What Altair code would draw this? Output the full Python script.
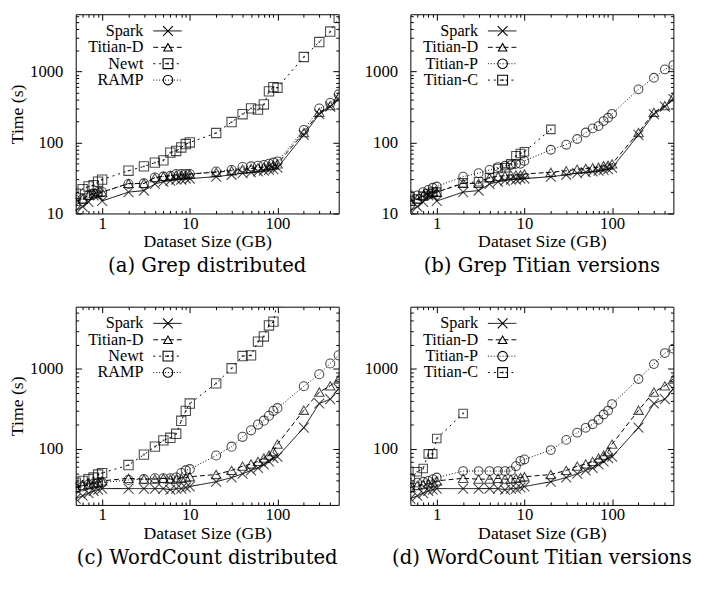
import altair as alt
import pandas as pd

SIZES = [0.5, 0.6, 0.7, 0.8, 0.9, 1, 2, 3, 4, 5, 6, 7, 8, 9, 10,
         20, 30, 40, 50, 60, 70, 80, 90, 100, 200, 300, 400, 500]

# Grep (panels a, b)
GREP_SPARK = [11, 12.5, 14.5, 18, 18, 15, 20, 21, 26, 28, 29, 30, 30, 31, 31,
              33, 35, 37, 38, 39, 40, 41, 42, 44, 128, 250, 320, 410]
GREP_TITIAN_D = [14.8, 16, 18, 19, 20, 20, 26.5, 26.5, 32, 33.4, 34, 35, 35, 35, 36,
                 38, 40, 42, 43, 44, 45, 47, 48, 50, 138, 265, 330, 440]
GREP_NEWT = [19, 22, 24, 25, 28, 30, 40, 46, 52, 56, 72, 76, 85, 95, 100,
             136, 194, 250, 302, 290, 343, 525, 600, 590, 1600, 2600, 3650, 5700]
GREP_RAMP = [15.5, 16, 18, 19, 20, 20, 26, 26.5, 32, 33, 34, 36, 36, 36, 36,
             39, 41, 45, 46, 47, 48, 50, 52, 54, 150, 300, 360, 475]
GREP_TITIAN_P = [18, 18, 20, 21.5, 23, 24, 33, 37, 41, 45, 47, 48, 50, 50, 55,
                 79, 93, 112, 138, 158, 170, 200, 223, 253, 560, 815, 1070, 1230]
GREP_TITIAN_C = [15, 16, 17.5, 19, 20, 20, 27, 28, 32, 43, 44, 50, 65, 70, 74, 153]

# WordCount (panels c, d)
WC_SPARK = [24, 26, 28, 30, 31, 32, 32, 32, 32, 32, 31, 32, 32, 33, 34,
            39, 44, 49, 54, 58, 64, 70, 77, 80, 185, 370, 420, 565]
WC_TITIAN_D = [33, 35, 36, 37, 38, 40, 43, 42, 42, 43, 42, 42, 43, 44, 45,
               48, 54, 61, 65, 70, 77, 84, 93, 115, 305, 515, 615, 750]
WC_NEWT = [38, 40, 42, 44, 48, 50, 63, 85, 107, 128, 138, 155, 225, 300, 370,
           660, 1020, 1450, 1480, 2200, 2550, 3500, 3900, 7000]
WC_RAMP = [32, 34, 36, 37, 38, 38, 41, 42, 43, 43, 43, 44, 50, 54, 56,
           83, 107, 142, 171, 202, 226, 260, 300, 324, 608, 860, 1170, 1480]
WC_TITIAN_P = [33, 38, 39, 40, 42, 44, 53, 53, 53, 53, 53, 53, 61, 71, 74,
               97, 130, 160, 184, 204, 232, 270, 302, 364, 750, 1150, 1580, 1790]
WC_TITIAN_C = [42, 52, 57, 87, 87, 135, 278]

X_MAJOR = [1, 10, 100]
X_MINOR = [0.6, 0.7, 0.8, 0.9, 2, 3, 4, 5, 6, 7, 8, 9,
           20, 30, 40, 50, 60, 70, 80, 90, 200, 300, 400]
GY_MIN = [20, 30, 40, 50, 60, 70, 80, 90, 200, 300, 400, 500, 600, 700, 800, 900,
          2000, 3000, 4000, 5000, 6000]
WY_MIN = [30, 40, 50, 60, 70, 80, 90, 200, 300, 400, 500, 600, 700, 800, 900,
          2000, 3000, 4000, 5000]

FONT = "Liberation Serif"
CAP_FONT = "DejaVu Serif"
X_SHAPE = "M-1,-1L1,1M-1,1L1,-1"
STYLE = {
    "Spark": ([1, 0], X_SHAPE, 100),
    "Titian-D": ([5, 3], "triangle-up", 75),
    "Newt": ([2, 4], "square", 100),
    "RAMP": ([1, 2], "circle", 95),
    "Titian-P": ([1, 2], "circle", 95),
    "Titian-C": ([2, 4], "square", 100),
}
ALL_NAMES = list(STYLE.keys())
W = 268


def tick_axis(orient, values, size):
    return alt.Axis(orient=orient, values=values, offset=-size, tickSize=size,
                    labels=False, domain=False, grid=False, title=None,
                    tickColor="black", tickWidth=1)


def panel(series, ylo, yhi, ymajor, yminor, caption, ytitle, height):
    rows = []
    for name, vals in series:
        for x, v in zip(SIZES, vals):
            rows.append({"size": x, "time": v, "series": name})
    df = pd.DataFrame(rows)
    names = [s[0] for s in series]
    xsc = alt.Scale(type="log", domain=[0.5, 500])
    ysc = alt.Scale(type="log", domain=[ylo, yhi])
    dash = alt.Scale(domain=ALL_NAMES, range=[STYLE[n][0] for n in ALL_NAMES])
    shp = alt.Scale(domain=ALL_NAMES, range=[STYLE[n][1] for n in ALL_NAMES])
    szs = alt.Scale(domain=ALL_NAMES, range=[STYLE[n][2] for n in ALL_NAMES])
    base = alt.Chart(df)

    lines = base.mark_line(clip=True, color="black", strokeWidth=1).encode(
        x=alt.X("size:Q", scale=xsc, axis=alt.Axis(
            values=X_MAJOR, format="d", ticks=False, tickSize=0, domain=False, grid=False,
            labelPadding=2, title="Dataset Size (GB)", titlePadding=2)),
        y=alt.Y("time:Q", scale=ysc, axis=alt.Axis(
            values=ymajor, format="d", ticks=False, tickSize=0, domain=False, grid=False,
            labelPadding=13, title=ytitle, titlePadding=3)),
        strokeDash=alt.StrokeDash("series:N", scale=dash, legend=None),
        detail="series:N",
    )
    points = base.mark_point(clip=True, color="black", filled=False, strokeWidth=1.1).encode(
        x=alt.X("size:Q", scale=xsc, axis=None),
        y=alt.Y("time:Q", scale=ysc, axis=None),
        shape=alt.Shape("series:N", scale=shp, legend=None),
        size=alt.Size("series:N", scale=szs, legend=None),
    )
    sq_names = [n for n in names if STYLE[n][1] == "square"]
    dots = base.mark_point(clip=True, color="black", filled=True, shape="square", size=3).encode(
        x=alt.X("size:Q", scale=xsc, axis=None),
        y=alt.Y("time:Q", scale=ysc, axis=None),
    ).transform_filter(alt.FieldOneOfPredicate(field="series", oneOf=sq_names))

    inv = base.mark_point(opacity=0)
    ax1 = inv.encode(x=alt.X("size:Q", scale=xsc, axis=tick_axis("bottom", X_MAJOR, 6)),
                     y=alt.Y("time:Q", scale=ysc, axis=tick_axis("left", ymajor, 6)))
    ax2 = inv.encode(x=alt.X("size:Q", scale=xsc, axis=tick_axis("bottom", X_MINOR, 3)),
                     y=alt.Y("time:Q", scale=ysc, axis=tick_axis("left", yminor, 3)))
    ax3 = inv.encode(x=alt.X("size:Q", scale=xsc, axis=tick_axis("top", X_MAJOR, 6)),
                     y=alt.Y("time:Q", scale=ysc, axis=tick_axis("right", ymajor, 6)))
    ax4 = inv.encode(x=alt.X("size:Q", scale=xsc, axis=tick_axis("top", X_MINOR, 3)),
                     y=alt.Y("time:Q", scale=ysc, axis=tick_axis("right", yminor, 3)))

    legend = []
    one = alt.Data(values=[{}])
    for i, n in enumerate(names):
        yy = 17 + 16.7 * i
        d, s, sz = STYLE[n]
        legend.append(alt.Chart(one).mark_text(
            text=n, align="right", baseline="middle", font=FONT, fontSize=16.5, color="black"
        ).encode(x=alt.value(69), y=alt.value(yy)))
        legend.append(alt.Chart(one).mark_rule(
            color="black", strokeWidth=1, strokeDash=d
        ).encode(x=alt.value(79), x2=alt.value(108), y=alt.value(yy)))
        legend.append(alt.Chart(one).mark_point(
            shape=s, size=sz, filled=False, color="black", strokeWidth=1.1, opacity=1
        ).encode(x=alt.value(94), y=alt.value(yy)))
        if s == "square":
            legend.append(alt.Chart(one).mark_point(
                shape="square", size=3, filled=True, color="black", opacity=1
            ).encode(x=alt.value(94), y=alt.value(yy)))

    return alt.layer(lines, points, dots, ax1, ax2, ax3, ax4, *legend).resolve_axis(
        x="independent", y="independent"
    ).properties(
        width=W, height=height,
        title=alt.TitleParams(caption, orient="bottom", font=CAP_FONT, fontSize=20,
                              fontWeight="normal", color="black", offset=6, anchor="middle"),
    )


pa = panel([("Spark", GREP_SPARK), ("Titian-D", GREP_TITIAN_D), ("Newt", GREP_NEWT), ("RAMP", GREP_RAMP)],
           10, 6400, [10, 100, 1000], GY_MIN, "(a) Grep distributed", "Time (s)", 203)
pb = panel([("Spark", GREP_SPARK), ("Titian-D", GREP_TITIAN_D), ("Titian-P", GREP_TITIAN_P), ("Titian-C", GREP_TITIAN_C)],
           10, 6400, [10, 100, 1000], GY_MIN, "(b) Grep Titian versions", None, 203)
pc = panel([("Spark", WC_SPARK), ("Titian-D", WC_TITIAN_D), ("Newt", WC_NEWT), ("RAMP", WC_RAMP)],
           20, 6000, [100, 1000], WY_MIN, "(c) WordCount distributed", "Time (s)", 202)
pd_ = panel([("Spark", WC_SPARK), ("Titian-D", WC_TITIAN_D), ("Titian-P", WC_TITIAN_P), ("Titian-C", WC_TITIAN_C)],
            20, 6000, [100, 1000], WY_MIN, "(d) WordCount Titian versions", None, 202)

chart = alt.vconcat(
    alt.hconcat(pa, pb, spacing=21),
    alt.hconcat(pc, pd_, spacing=21),
    spacing=21,
).properties(
    padding={"left": 0, "top": 0, "right": 0, "bottom": 0}
).configure_view(
    stroke="black", strokeWidth=1
).configure_axis(
    labelFont=FONT, labelFontSize=17, labelColor="black",
    titleFont=FONT, titleFontSize=18, titleFontWeight="normal", titleColor="black",
)

chart.save("out.html", embed_options={"renderer": "svg", "actions": False})
